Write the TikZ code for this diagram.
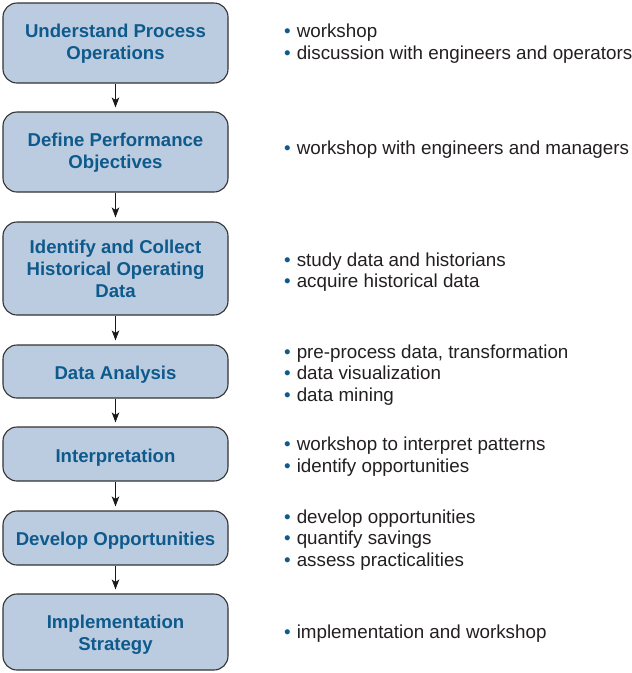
\documentclass[tikz,border=0pt]{standalone}
\usepackage{fontspec}
\setmainfont{Liberation Sans}
\usetikzlibrary{arrows.meta}
\definecolor{boxfill}{HTML}{BCCCE0}
\definecolor{boxblue}{HTML}{0E5A8C}
\definecolor{boxline}{HTML}{333333}
\definecolor{bodytext}{HTML}{231F20}
\newcommand{\bul}{\textcolor{boxblue}{•}\hspace{6pt}}
\newcommand{\lift}[1]{\rule{0pt}{#1}}
\tikzset{
  stepbox/.style={draw=boxline, line width=1.1pt, fill=boxfill, rounded corners=14pt,
    minimum width=225pt, inner sep=0pt, align=center, text=boxblue,
    font=\fontsize{18.6pt}{21.7pt}\selectfont\bfseries},
  notes/.style={anchor=west, inner sep=0pt, align=left, text=bodytext,
    font=\fontsize{18.8pt}{21.7pt}\selectfont},
  arr/.style={draw=black!90, line width=1pt, -{Stealth[length=10pt,width=7.5pt,inset=2.5pt]}, shorten >=4pt}
}
\begin{document}
\begin{tikzpicture}[x=1pt,y=-1pt]
\useasboundingbox (0,0) rectangle (632,673);
\node[stepbox, minimum height=80pt] (b1) at (115.5,43) {\lift{15pt}Understand Process\\Operations};
\node[stepbox, minimum height=80pt] (b2) at (115.5,152) {\lift{14.5pt}Define Performance\\Objectives};
\node[stepbox, minimum height=93pt] (b3) at (115.5,268.5) {\lift{14.5pt}Identify and Collect\\Historical Operating\\Data};
\node[stepbox, minimum height=53pt] (b4) at (115.5,371.5) {\lift{19.6pt}Data Analysis};
\node[stepbox, minimum height=54pt] (b5) at (115.5,454) {\lift{21.6pt}Interpretation};
\node[stepbox, minimum height=54pt] (b6) at (115.5,538) {\lift{19.6pt}Develop Opportunities};
\node[stepbox, minimum height=76pt] (b7) at (115.5,632) {\lift{19.6pt}Implementation\\Strategy};

\draw[arr] (b1.south) -- (b2.north);
\draw[arr] (b2.south) -- (b3.north);
\draw[arr] (b3.south) -- (b4.north);
\draw[arr] (b4.south) -- (b5.north);
\draw[arr] (b5.south) -- (b6.north);
\draw[arr] (b6.south) -- (b7.north);

\node[notes] (n1) at (284,43.5) {\bul workshop\\\bul discussion with engineers and operators};
\node[notes] (n2) at (284,150) {\bul workshop with engineers and managers};
\node[notes] (n3) at (284,272) {\bul study data and historians\\\bul acquire historical data};
\node[notes] (n4) at (284,375) {\bul pre-process data, transformation\\\bul data visualization\\\bul data mining};
\node[notes] (n5) at (284,456.7) {\bul workshop to interpret patterns\\\bul identify opportunities};
\node[notes] (n6) at (284,540) {\bul develop opportunities\\\bul quantify savings\\\bul assess practicalities};
\node[notes] (n7) at (284,633.5) {\bul implementation and workshop};
\end{tikzpicture}
\end{document}
